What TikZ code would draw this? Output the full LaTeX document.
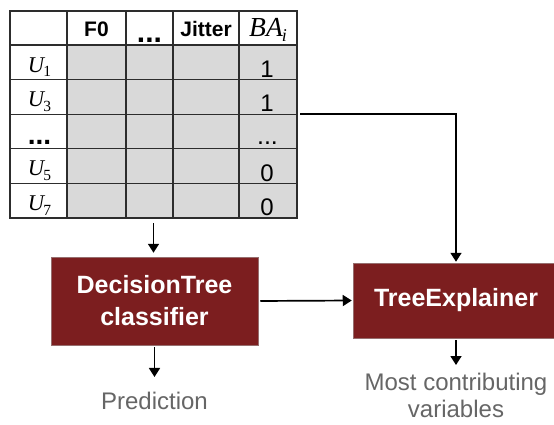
\documentclass[tikz,border=0pt]{standalone}
\usepackage{fontspec}
\setmainfont{Liberation Sans}
\newfontfamily\tms{Liberation Serif}
\usetikzlibrary{arrows.meta}
\definecolor{boxred}{RGB}{124,30,31}
\definecolor{boxedge}{RGB}{150,110,110}
\definecolor{cellgray}{RGB}{217,217,217}
\definecolor{txtgray}{RGB}{102,102,102}
\definecolor{tline}{RGB}{45,45,45}
\newcommand{\Uvar}[1]{{\tms\fontsize{22.5}{22.5}\selectfont\itshape U\kern-0.5pt\raisebox{-4.5pt}{\fontsize{15.5}{15.5}\selectfont\upshape #1}}}
\begin{document}
\begin{tikzpicture}[x=1pt,y=-1pt,
  gridline/.style={draw=tline,line width=1.2pt},
  arr/.style={line width=1.7pt,-{Triangle[length=9pt,width=11pt]}},
  redbox/.style={fill=boxred,draw=boxedge,line width=0.5pt,text=white,
    font=\bfseries\fontsize{25}{32}\selectfont,align=center,inner sep=0pt},
  hdr/.style={anchor=base,inner sep=0pt,font=\bfseries\fontsize{21}{21}\selectfont},
  cellnum/.style={anchor=base,inner sep=0pt,font=\fontsize{24}{24}\selectfont},
  rowlab/.style={anchor=base,inner sep=0pt},
  outtext/.style={text=txtgray,inner sep=0pt,align=center,font=\fontsize{24}{27}\selectfont}]
\useasboundingbox (0,0) rectangle (554,425);
\fill[white] (0,0) rectangle (554,425);
% table
\fill[cellgray] (67,45) rectangle (297,218);
\foreach \yy in {45,79.6,114.2,148.8,183.4}{\draw[gridline] (10,\yy) -- (297,\yy);}
\foreach \xx in {67,126,173,239}{\draw[gridline] (\xx,11) -- (\xx,218);}
\draw[gridline] (10,11) rectangle (297,218);
\node[inner sep=0pt,minimum width=287pt,minimum height=207pt] (tbl) at (153.5,114.5) {};
% header
\node[hdr] (hF) at (96.5,37) {F0};
\node[hdr,font=\bfseries\fontsize{30}{30}\selectfont] (hdots) at (149.5,43) {...};
\node[hdr] (hJ) at (206,37) {Jitter};
\node[rowlab] (hBA) at (268,37) {\tms\fontsize{27.5}{27.5}\selectfont\itshape BA\kern-1pt\raisebox{-5pt}{\fontsize{18}{18}\selectfont i}};
% row labels
\node[rowlab] (u1) at (39.5,72.1) {\Uvar{1}};
\node[rowlab] (u3) at (39.5,106.7) {\Uvar{3}};
\node[rowlab,font=\bfseries\fontsize{28}{28}\selectfont] (udots) at (39.5,144.5) {...};
\node[rowlab] (u5) at (39.5,175.9) {\Uvar{5}};
\node[rowlab] (u7) at (39.5,210.5) {\Uvar{7}};
% BA values
\node[cellnum] (v1) at (267,77.4) {1};
\node[cellnum] (v3) at (267,112) {1};
\node[cellnum,font=\fontsize{25}{25}\selectfont] (vdots) at (267.5,144.5) {...};
\node[cellnum] (v5) at (267,181.2) {0};
\node[cellnum] (v7) at (267,215.8) {0};
% boxes
\node[redbox,minimum width=207pt,minimum height=88pt] (dt) at (154.5,301) {DecisionTree\\classifier};
\node[redbox,minimum width=206pt,minimum height=75pt] (te) at (456,300.5) {TreeExplainer};
% outputs
\node[outtext] (pred) at (154.5,401) {Prediction};
\node[outtext,anchor=north] (most) at (456,373) {Most contributing\\variables};
\coordinate (tout) at (300,114.2);
% connectors
\draw[arr,shorten <=5pt,shorten >=4pt] (tbl.south) -- (tbl.south |- dt.north);
\draw[arr,shorten >=1pt] (tout) -| (te.north);
\draw[arr,shorten <=2pt,shorten >=1pt] (dt.east) -- (te.west);
\draw[arr,shorten <=2pt,shorten >=15pt] (dt.south) -- (pred.north);
\draw[arr,shorten <=2pt,shorten >=8pt] (te.south) -- (most.north);
\end{tikzpicture}
\end{document}
